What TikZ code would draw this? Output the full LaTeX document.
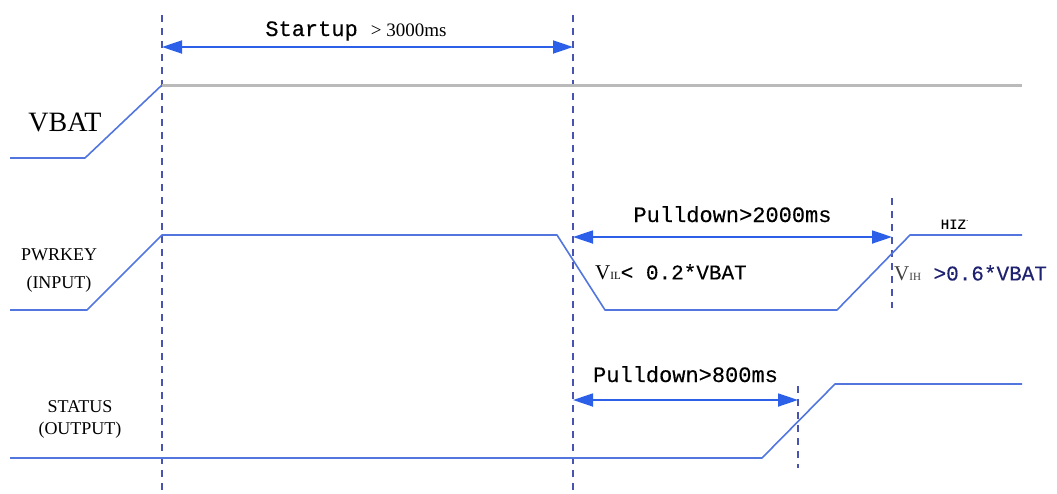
\documentclass[tikz,border=0pt]{standalone}
\usepackage{fontspec}
\setmainfont{Liberation Serif}
\setmonofont[FakeBold=0.3]{Liberation Mono}
\usetikzlibrary{arrows.meta,positioning,calc}
\definecolor{sigblue}  {RGB}{82,118,222}
\definecolor{arrblue}  {RGB}{44,96,232}
\definecolor{dashblue} {RGB}{72,84,176}
\definecolor{railgray} {RGB}{186,186,186}
\definecolor{vihnavy}  {RGB}{30,34,112}
\tikzset{
  sig/.style    ={sigblue, line width=1.6pt, line join=round},
  rail/.style   ={railgray, line width=3pt},
  tmark/.style  ={dashblue, line width=1.3pt, dash pattern=on 7pt off 6pt},
  dimarr/.style ={arrblue, line width=1.8pt,
                  {Triangle[length=20pt,width=13pt]}-{Triangle[length=20pt,width=13pt]}},
  siglabel/.style={font=\fontsize{18}{28}\selectfont, align=center, inner sep=0pt},
  dimlabel/.style={font=\ttfamily\fontsize{22}{24}\selectfont, inner sep=0pt, anchor=base},
  lvlabel/.style ={font=\ttfamily\fontsize{21}{24}\selectfont, inner sep=0pt, anchor=west},
}

\begin{document}
\begin{tikzpicture}[x=1pt,y=-1pt]
  \useasboundingbox (0,0) rectangle (1057,493);
  %% time marks
  \coordinate (m0t) at (162,15);  \coordinate (m0b) at (162,493);
  \coordinate (m1t) at (573,15);  \coordinate (m1b) at (573,493);
  \coordinate (m2t) at (892,198); \coordinate (m2b) at (892,308);
  \coordinate (m3t) at (798,386); \coordinate (m3b) at (798,468);
  \foreach \m in {0,1,2,3}
    \draw[tmark] (m\m t) -- (m\m b);
  %% signals
  \draw[sig] (10,158) -- (85,158) -- (162,85);
  \draw[rail] (162,85) -- (1022,85);
  \draw[sig] (10,310) -- (87,310) -- (162,235) -- (557,235) -- (605,310)
             -- (837,310) -- (910,235) -- (1022,235);
  \draw[sig] (10,458) -- (762,458) -- (835,384) -- (1022,384);
  %% signal names
  \node[font=\fontsize{28}{30}\selectfont, inner sep=0pt] (vbat) at (65,122) {VBAT};
  \node[siglabel] (pwrkey) at (59,271) {PWRKEY\\(INPUT)};
  \node[siglabel, font=\fontsize{18}{22}\selectfont] (status) at (80,419) {STATUS\\(OUTPUT)};
  %% durations
  \coordinate (su-l) at (162,47);  \coordinate (su-r) at (573,47);
  \coordinate (pd-l) at (573,237); \coordinate (pd-r) at (892,237);
  \coordinate (st-l) at (573,400); \coordinate (st-r) at (798,400);
  \draw[dimarr] (su-l) -- (su-r);
  \draw[dimarr] (pd-l) -- (pd-r);
  \draw[dimarr] (st-l) -- (st-r);
  \node[dimlabel] (sutxt) at (356,36) {Startup {\rmfamily\fontsize{19}{20}\selectfont > 3000ms}};
  \node[dimlabel] (pdtxt) at ($(pd-l)!0.5!(pd-r)+(0,-15)$) {Pulldown>2000ms};
  \node[dimlabel] (sttxt) at ($(st-l)!0.5!(st-r)+(0,-18)$) {Pulldown>800ms};
  %% levels
  \node[lvlabel] (vil) at (595,272) {{\rmfamily V\fontsize{11}{11}\selectfont IL}< 0.2*VBAT};
  \node[lvlabel, text=vihnavy] (vih) at (894,273) {{\rmfamily\color{black!75}V\fontsize{11}{11}\selectfont IH} >0.6*VBAT};
  \node[font=\ttfamily\fontsize{14}{14}\selectfont, inner sep=0pt] (hiz) at (955,224) {HIZ$^{\cdot}$};
\end{tikzpicture}
\end{document}
